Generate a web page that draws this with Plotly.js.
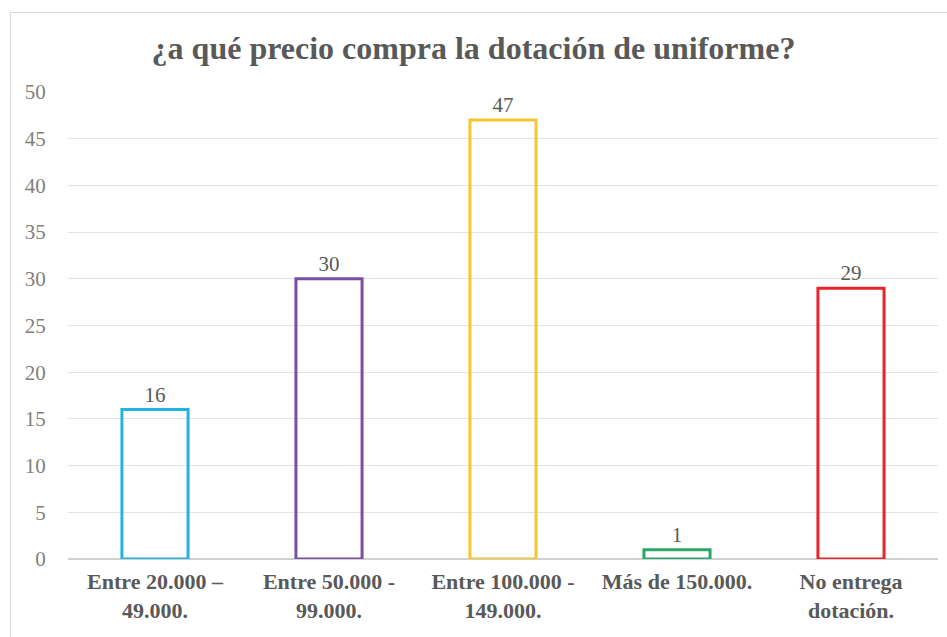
<!DOCTYPE html>
<html>
<head>
<meta charset="utf-8">
<script src="https://cdn.plot.ly/plotly-3.0.1.min.js"></script>
<style>
  html, body { margin: 0; padding: 0; background: #ffffff; }
  #frame { position: absolute; left: 10px; top: 12px; width: 960px; height: 660px; border: 1px solid #d9d9d9; pointer-events: none; }
  #chart { position: absolute; left: 0; top: 0; width: 947px; height: 637px; }
</style>
</head>
<body>
<div id="chart"></div>
<div id="frame"></div>
<script>
const categories = ["<b>Entre 20.000 –</b><br><b>49.000.</b>", "<b>Entre 50.000 -</b><br><b>99.000.</b>", "<b>Entre 100.000 -</b><br><b>149.000.</b>", "<b>Más de 150.000.</b>", "<b>No entrega</b><br><b>dotación.</b>"];
const values = [16, 30, 47, 1, 29];
const barColors = ["#22b4dc", "#7a4fa3", "#f2c731", "#2aa868", "#e8262a"];
const yTicks = [0, 5, 10, 15, 20, 25, 30, 35, 40, 45, 50];

const SERIF = "Liberation Serif";

const trace = {
  type: "bar",
  x: categories,
  y: values,
  text: values.map(String),
  textposition: "outside",
  cliponaxis: false,
  textfont: { family: SERIF, size: 21, color: "#595959" },
  marker: { color: "rgba(255,255,255,0)", line: { color: barColors, width: 3 } },
  hoverinfo: "none"
};

const layout = {
  width: 947, height: 637,
  margin: { l: 68, r: 9, t: 92, b: 78 },
  paper_bgcolor: "#ffffff",
  plot_bgcolor: "#ffffff",
  bargap: 0.62,
  showlegend: false,
  title: {
    text: "<b>¿a qué precio compra la dotación de uniforme?</b>",
    font: { family: SERIF, size: 32, color: "#595959" },
    x: 0.5, xanchor: "center",
    y: 1 - 48 / 637, yref: "container", yanchor: "middle"
  },
  xaxis: {
    type: "category",
    showgrid: false,
    showline: false,
    ticks: "",
    tickfont: { family: SERIF, size: 22, color: "#595959" },
    tickangle: 0,
    ticklabelstandoff: 7
  },
  yaxis: {
    range: [0, 50],
    tickvals: yTicks,
    showgrid: true,
    gridcolor: "#e3e3e3",
    gridwidth: 1,
    zeroline: true,
    zerolinecolor: "#d0d0d0",
    zerolinewidth: 2,
    showline: false,
    ticks: "outside",
    ticklen: 17,
    tickcolor: "rgba(0,0,0,0)",
    tickfont: { family: SERIF, size: 21, color: "#7f7f7f" }
  }
};

Plotly.newPlot("chart", [trace], layout, { displayModeBar: false, staticPlot: true });
</script>
</body>
</html>
